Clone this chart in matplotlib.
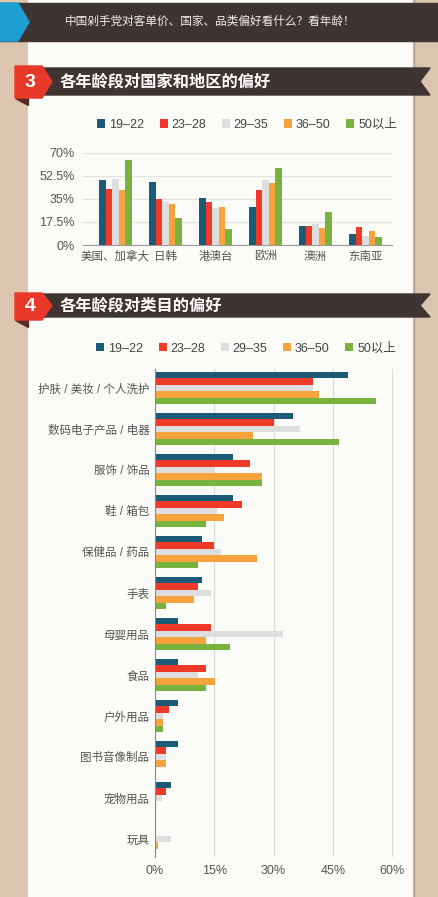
import matplotlib
matplotlib.use('Agg')
import matplotlib.pyplot as plt
from matplotlib.patches import Polygon, Rectangle
import numpy as np

plt.rcParams['font.family'] = ['Liberation Sans', 'Noto Sans CJK SC']

# data
ages = ['19–22', '23–28', '29–35', '36–50', '50以上']
colors = ['#1b5b78', '#ef3a2a', '#dedede', '#f7a33d', '#78b33f']

regions = ['美国、加拿大', '日韩', '港澳台', '欧洲', '澳洲', '东南亚']
r19 = [49.3, 47.8, 35.9, 29.1, 14.7, 8.6]
r23 = [42.7, 34.6, 32.3, 41.7, 14.7, 13.4]
r29 = [50.0, 33.6, 28.3, 49.3, 15.9, 6.8]
r36 = [41.4, 31.3, 29.1, 47.3, 13.1, 10.6]
r50 = [64.4, 20.2, 11.9, 58.6, 25.3, 6.1]
yticks1 = [0, 17.5, 35, 52.5, 70]
ylabels1 = ['0%', '17.5%', '35%', '52.5%', '70%']

goods = ['护肤 / 美妆 / 个人洗护', '数码电子产品 / 电器', '服饰 / 饰品', '鞋 / 箱包',
         '保健品 / 药品', '手表', '母婴用品', '食品', '户外用品', '图书音像制品',
         '宠物用品', '玩具']
g19 = [48.9, 34.8, 19.8, 19.8, 12.0, 12.0, 5.8, 5.8, 5.8, 5.8, 4.0, 0.0]
g23 = [39.9, 30.0, 24.0, 22.1, 14.8, 11.0, 14.1, 12.8, 3.5, 2.9, 2.7, 0.0]
g29 = [40.0, 36.8, 15.0, 15.8, 16.7, 14.1, 32.3, 10.9, 1.9, 2.9, 1.7, 4.1]
g36 = [41.6, 24.8, 27.1, 17.4, 25.8, 9.9, 12.8, 15.1, 1.9, 2.7, 0.2, 0.8]
g50 = [56.0, 46.6, 27.1, 12.9, 10.9, 2.8, 18.9, 12.8, 1.9, 0.3, 0.2, 0.2]
xticks2 = [0, 15, 30, 45, 60]
xlabels2 = ['0%', '15%', '30%', '45%', '60%']

W, H = 438, 897
fig = plt.figure(figsize=(W / 100, H / 100), dpi=100)

def box(l, t, r, b):
    return [l / W, 1 - b / H, (r - l) / W, (b - t) / H]

# background in pixel coords
bg = fig.add_axes([0, 0, 1, 1])
bg.set_xlim(0, W)
bg.set_ylim(H, 0)
bg.axis('off')
bg.add_patch(Rectangle((0, 0), W, H, color='#dcc5ae'))
bg.add_patch(Rectangle((28, 0), 386, H, color='#b9a593'))
bg.add_patch(Rectangle((28, 0), 384, H, color='#fbfbf7'))

dark = '#3e3431'
bg.add_patch(Rectangle((0, 3), W, 38, color=dark))
bg.add_patch(Polygon([(0, 3), (18, 3), (29, 22), (18, 41), (0, 41)], color='#1e9fd3'))
bg.text(210, 22, '中国剁手党对客单价、国家、品类偏好看什么？看年龄！', color='#f2f0ec',
        fontsize=8.4, ha='center', va='center')

def ribbon(top, bot, num, title, rtop, rbot):
    mid = (top + bot) / 2
    bg.add_patch(Polygon([(40, top), (430, top), (420, mid), (430, bot), (40, bot)],
                         color=dark))
    bg.add_patch(Polygon([(15, rbot), (28, rbot), (28, rbot + 7)], color='#5a2a22'))
    bg.add_patch(Polygon([(15, rtop), (42, rtop), (52, mid), (42, rbot), (15, rbot)],
                         color='#e8382a'))
    bg.text(30, mid + 1, num, color='white', fontsize=14, fontweight='bold',
            ha='center', va='center', family='Liberation Sans')
    bg.text(60, mid, title, color='white', fontsize=11.7, fontweight='bold',
            ha='left', va='center')

ribbon(68, 95, '3', '各年龄段对国家和地区的偏好', 66, 98)
ribbon(294, 317, '4', '各年龄段对类目的偏好', 293, 320)

series1 = [r19, r23, r29, r36, r50]
series2 = [g19, g23, g29, g36, g50]

# chart 3: grouped columns
ax1 = fig.add_axes(box(83, 152.7, 392, 245))
ax1.set_facecolor('none')
x = np.arange(len(regions))
bw = 0.132
bars = []
for k, vals in enumerate(series1):
    b = ax1.bar(x + (k - 2) * bw, vals, bw, color=colors[k], label=ages[k], zorder=3)
    bars.append(b)
ax1.set_xlim(-0.65, 5.53)
ax1.set_ylim(0, 70)
ax1.set_yticks(yticks1)
ax1.set_yticklabels(ylabels1)
ax1.set_xticks(x)
ax1.set_xticklabels(regions)
ax1.grid(axis='y', color='#e2e2dc', lw=0.9, zorder=0)
for s in ['top', 'right', 'left']:
    ax1.spines[s].set_visible(False)
ax1.spines['bottom'].set_color('#9a9a9a')
ax1.tick_params(length=0, colors='#555555', labelsize=9)
ax1.tick_params(axis='y', pad=6)
ax1.tick_params(axis='x', pad=4, labelsize=8.3)

leg_kw = dict(ncol=5, frameon=False, loc='center left', fontsize=9,
              handlelength=0.65, handleheight=0.65, handletextpad=0.3,
              columnspacing=1.25, borderaxespad=0, borderpad=0, labelcolor='#444444')
fig.legend(bars, ages, bbox_to_anchor=(97 / W, 1 - 125 / H), **leg_kw)

# chart 4: grouped horizontal bars
ax2 = fig.add_axes(box(155, 369, 393, 857))
ax2.set_facecolor('none')
y = np.arange(len(goods))
bh = 0.158
for k, vals in enumerate(series2):
    ax2.barh(y + (k - 2) * bh, vals, bh, color=colors[k], zorder=2)
ax2.set_xlim(0, 60.2)
ax2.set_ylim(11.44, -0.46)
ax2.set_xticks(xticks2)
ax2.set_xticklabels(xlabels2)
ax2.set_yticks(y)
ax2.set_yticklabels(goods)
ax2.grid(axis='x', color='black', alpha=0.13, lw=0.9, zorder=4)
for s in ['top', 'right', 'bottom']:
    ax2.spines[s].set_visible(False)
ax2.spines['left'].set_color('#8a8a8a')
ax2.spines['left'].set_zorder(5)
ax2.tick_params(length=0, colors='#555555')
ax2.tick_params(axis='x', pad=6, labelsize=9)
ax2.tick_params(axis='y', pad=4, labelsize=8.3)

fig.legend(bars, ages, bbox_to_anchor=(96 / W, 1 - 348.5 / H), **leg_kw)

fig.savefig('out.png', dpi=100)
